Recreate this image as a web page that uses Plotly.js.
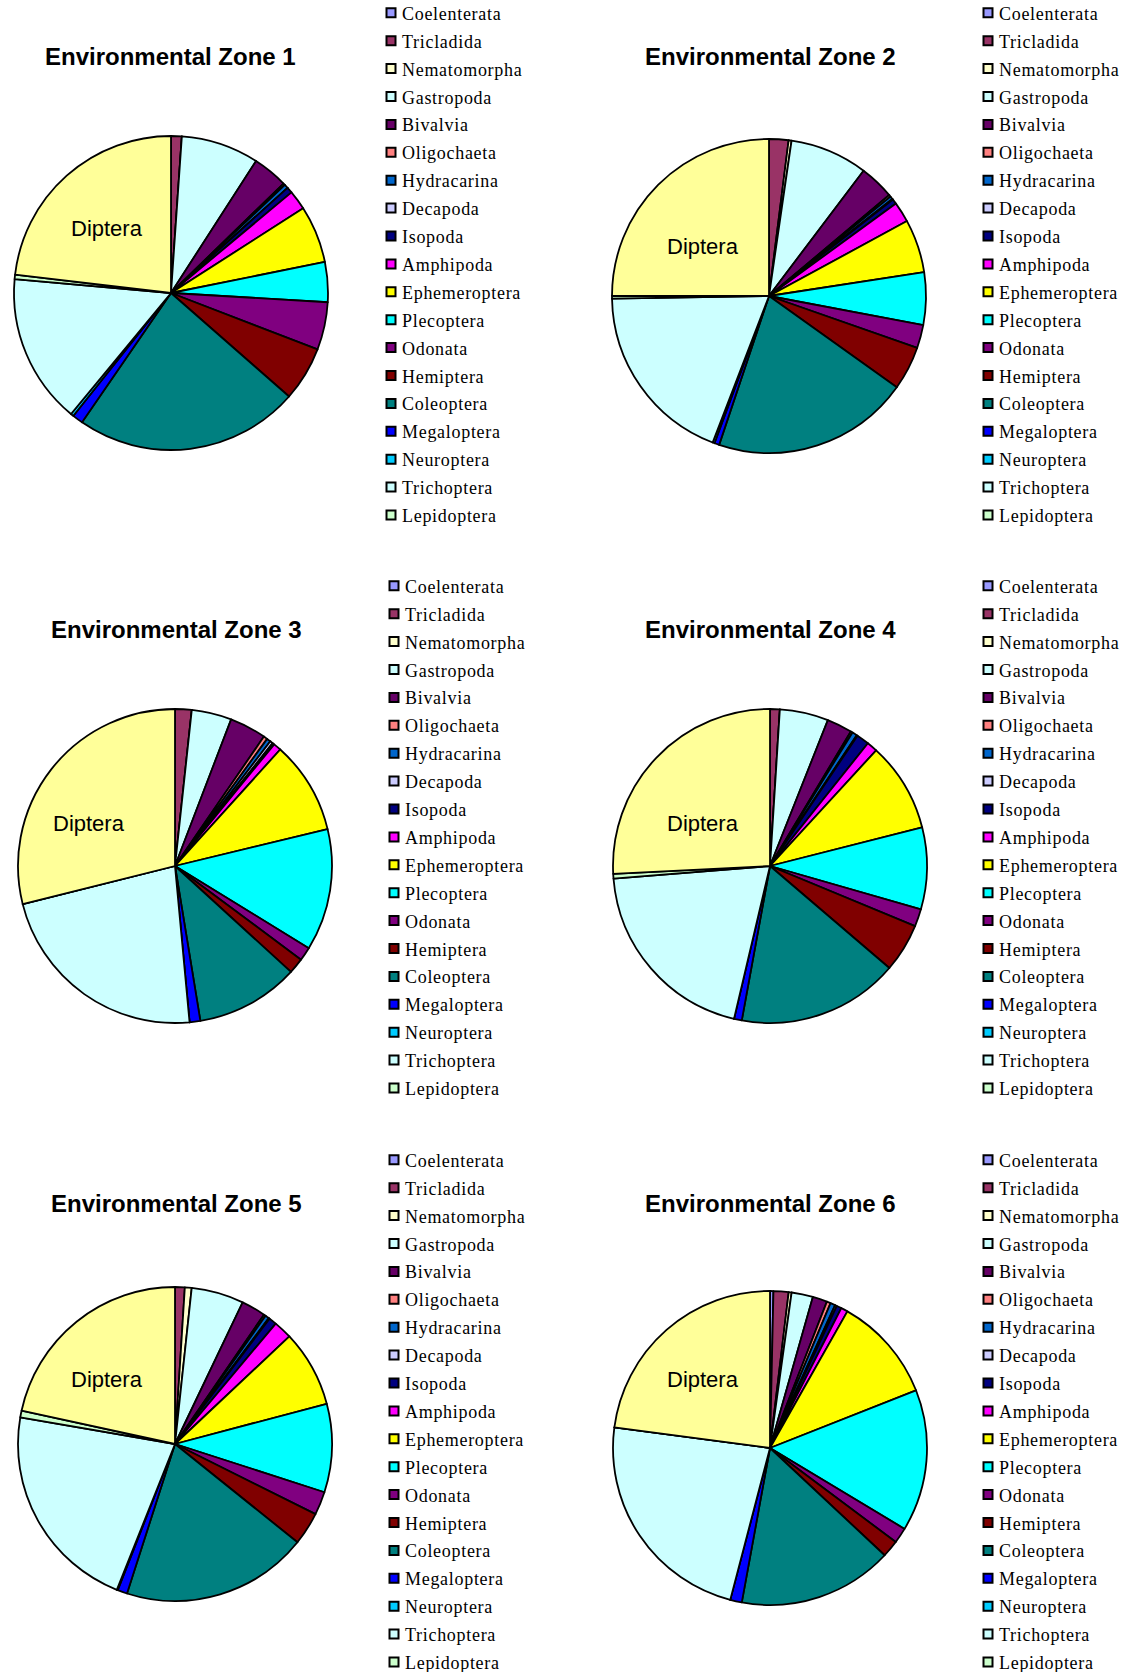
<!DOCTYPE html>
<html>
<head>
<meta charset="utf-8">
<script src="https://cdn.plot.ly/plotly-3.0.1.min.js"></script>
<style>
html, body { margin: 0; padding: 0; background: #ffffff; overflow: hidden; width: 1127px; height: 1672px; }
#chart { position: absolute; left: 0; top: -9px; width: 1127px; height: 1690px; }
</style>
</head>
<body>
<div id="chart"></div>
<script>
// ---- Data ----
const taxa = ["Coelenterata","Tricladida","Nematomorpha","Gastropoda","Bivalvia","Oligochaeta",
  "Hydracarina","Decapoda","Isopoda","Amphipoda","Ephemeroptera","Plecoptera","Odonata",
  "Hemiptera","Coleoptera","Megaloptera","Neuroptera","Trichoptera","Lepidoptera","Diptera"];
const legendTaxa = taxa.slice(0, 19);   // Diptera is labelled on the pie, not in the legend
const taxaColors = ["#9999FF","#993366","#FFFFCC","#CCFFFF","#660066","#FF8080","#0066CC",
  "#CCCCFF","#000080","#FF00FF","#FFFF00","#00FFFF","#800080","#800000","#008080","#0000FF",
  "#00CCFF","#CCFFFF","#CCFFCC","#FFFF99"];
const zoneTitles = ["Environmental Zone 1","Environmental Zone 2","Environmental Zone 3",
  "Environmental Zone 4","Environmental Zone 5","Environmental Zone 6"];
const zone1 = [0, 1.1, 0, 8.0, 3.6, 0.2, 0.4, 0, 0.6, 2.0, 5.9, 4.1, 4.9, 5.6, 23.1, 1.1, 0.3, 15.4, 0.45, 23.1];
const zone2 = [0, 2.0, 0.3, 8.0, 3.6, 0.2, 0.3, 0.1, 0.5, 2.1, 5.5, 5.4, 2.4, 4.5, 20.3, 0.5, 0.2, 18.9, 0.3, 25.0];
const zone3 = [0, 1.7, 0, 4.1, 3.75, 0.4, 0.4, 0.3, 0.2, 0.8, 9.5, 12.5, 1.4, 1.6, 10.6, 1.1, 0, 22.5, 0, 28.8];
const zone4 = [0, 1.0, 0, 5.0, 2.6, 0.2, 0.5, 0.1, 1.3, 1.1, 9.2, 8.4, 1.8, 5.0, 16.6, 0.8, 0, 20.0, 0.5, 25.75];
const zone5 = [0, 1.0, 0.7, 5.4, 2.5, 0.2, 0.4, 0.1, 0.8, 1.9, 7.9, 9.1, 2.4, 3.4, 19.2, 1.0, 0.1, 21.7, 0.7, 21.6];
const zone6 = [0.35, 1.55, 0.3, 2.2, 1.5, 0.4, 0.5, 0.2, 0.5, 0.7, 10.8, 14.6, 1.6, 1.75, 15.9, 1.2, 0, 23.0, 0, 22.9];
const zones = [zone1, zone2, zone3, zone4, zone5, zone6];

// ---- Layout geometry (page pixels) ----
const W = 1127, OFF = 9, H = 1672 + 2 * OFF;
const pieCenters = [[171, 293], [769, 296], [175, 866], [770, 866], [175, 1444], [770, 1448]];
const pieR = 157;
const titlePos = [[170, 57], [770, 57], [176, 630], [770, 630], [176, 1203], [770, 1203]];
const dipteraPos = [[107, 228], [703, 247], [89, 823], [703, 823], [107, 1379], [703, 1379]];
const legendLeftPx = [371, 968, 374, 968, 374, 968];
const legendTopPx = [-5.4, -5.4, 567.6, 567.6, 1141.6, 1141.6];
const TEXT_SHIFT = 9;

const fx = px => px / W;
const fy = py => 1 - (py + OFF) / H;

const traces = [];
const annotations = [];
const layout = {
  width: W, height: H,
  margin: {l: 0, r: 0, t: 0, b: 0},
  paper_bgcolor: "#ffffff",
  plot_bgcolor: "rgba(0,0,0,0)",
  showlegend: true,
  xaxis: {visible: false, range: [0, 1]},
  yaxis: {visible: false, range: [0, 1]},
  annotations: annotations
};
const legendIds = [];

zones.forEach((vals, k) => {
  const [cx, cy] = pieCenters[k];
  const legName = k === 0 ? "legend" : "legend" + (k + 1);
  legendIds.push(legName);
  traces.push({
    type: "pie",
    labels: taxa,
    values: vals,
    sort: false,
    direction: "clockwise",
    rotation: 0,
    textinfo: "none",
    hoverinfo: "label+percent",
    showlegend: false,
    marker: {colors: taxaColors, line: {color: "#000000", width: 1.8}},
    domain: {x: [fx(cx - pieR), fx(cx + pieR)], y: [fy(cy + pieR), fy(cy - pieR)]}
  });
  legendTaxa.forEach((name, i) => {
    traces.push({
      type: "scatter", mode: "markers", x: [null], y: [null],
      name: name, legend: legName, legendgroup: "z" + k + "_" + i,
      hoverinfo: "skip",
      marker: {symbol: "square", size: 9, color: taxaColors[i], line: {color: "#000000", width: 2}}
    });
  });
  layout[legName] = {
    x: fx(legendLeftPx[k]), xanchor: "left",
    y: fy(legendTopPx[k]), yanchor: "top",
    bgcolor: "rgba(0,0,0,0)", borderwidth: 0,
    traceorder: "grouped", tracegroupgap: 1.5,
    font: {family: "Liberation Serif, Times New Roman, serif", size: 18, color: "#000000"}
  };
  annotations.push({
    text: zoneTitles[k], x: fx(titlePos[k][0]), y: fy(titlePos[k][1]),
    xref: "paper", yref: "paper", xanchor: "center", yanchor: "middle", showarrow: false,
    font: {family: "Liberation Sans, Arial, sans-serif", size: 24, color: "#000000", weight: "bold"}
  });
  annotations.push({
    text: taxa[19], x: fx(dipteraPos[k][0]), y: fy(dipteraPos[k][1]),
    xref: "paper", yref: "paper", xanchor: "center", yanchor: "middle", showarrow: false,
    font: {family: "Liberation Sans, Arial, sans-serif", size: 22, color: "#000000"}
  });
});

Plotly.newPlot("chart", traces, layout, {displayModeBar: false, staticPlot: true}).then(gd => {
  // legend text sits closer to its swatch and is slightly letter-spaced, as in the original
  const sel = legendIds.map(id => "text." + id + "text").join(",");
  gd.querySelectorAll(sel).forEach(t => {
    const x = parseFloat(t.getAttribute("x") || "40");
    t.setAttribute("x", x - TEXT_SHIFT);
    t.style.letterSpacing = "0.7px";
  });
});
</script>
</body>
</html>
